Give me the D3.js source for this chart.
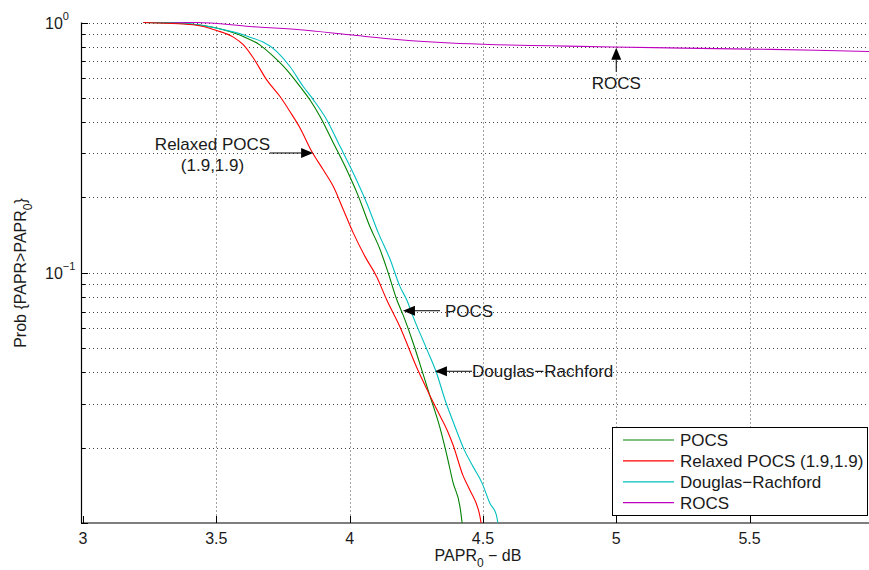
<!DOCTYPE html>
<html><head><meta charset="utf-8">
<script src="https://cdn.jsdelivr.net/npm/d3@7"></script>
<style>
body{margin:0;background:#fff;}
text{font-family:"Liberation Sans",Arial,Helvetica,sans-serif;fill:#1a1a1a;}
</style></head>
<body><svg id="chart" width="869" height="570"></svg>
<script>
// ---- data ----
const seriesNames = ["POCS", "Relaxed POCS (1.9,1.9)", "Douglas\u2212Rachford", "ROCS"];
const seriesColors = ["#008000", "#ff0000", "#00bfbf", "#bf00bf"];

const pocsX = [3.226,3.389,3.501,3.601,3.663,3.714,3.764,3.814,3.851,3.889,3.939,3.989,4.033,4.076,4.114,4.145,4.177,4.20,4.238,4.275,4.30,4.339,4.365,4.388,4.414,4.422];
const pocsY = [1.0,0.988,0.950,0.879,0.814,0.732,0.647,0.555,0.491,0.421,0.33,0.258,0.202,0.153,0.124,0.0997,0.078,0.068,0.0525,0.0395,0.0325,0.0240,0.0186,0.0145,0.0116,0.010];

const relaxedX = [3.226,3.414,3.501,3.564,3.601,3.639,3.689,3.739,3.776,3.814,3.858,3.901,3.939,3.976,4.014,4.058,4.101,4.139,4.189,4.253,4.30,4.339,4.365,4.388,4.425,4.45,4.489,4.493];
const relaxedY = [1.0,0.979,0.929,0.874,0.815,0.721,0.59,0.506,0.441,0.379,0.305,0.258,0.221,0.179,0.144,0.116,0.0966,0.078,0.0607,0.0415,0.0325,0.0268,0.0236,0.0205,0.0155,0.0136,0.0106,0.010];

const drX = [3.226,3.389,3.501,3.601,3.726,3.776,3.826,3.864,3.914,3.964,4.014,4.064,4.108,4.152,4.189,4.214,4.238,4.29,4.327,4.358,4.39,4.43,4.463,4.496,4.526,4.55,4.556];
const drY = [1.0,0.99,0.95,0.893,0.766,0.667,0.555,0.491,0.409,0.32,0.25,0.19,0.144,0.113,0.088,0.078,0.0668,0.0493,0.0395,0.031,0.0251,0.0196,0.0168,0.0145,0.012,0.0108,0.010];

const rocsX = [3.226,3.426,3.626,3.814,4.00,4.189,4.377,4.55,4.752,4.988,5.25,5.502,5.75,5.948];
const rocsY = [1.0,1.0,0.964,0.935,0.893,0.853,0.828,0.815,0.807,0.798,0.79,0.783,0.775,0.766];

const xTicks = [3, 3.5, 4, 4.5, 5, 5.5];
const xTickLabels = ["3", "3.5", "4", "4.5", "5", "5.5"];
const yDecades = [1, 0.1];
const yDecadeExp = ["0", "\u22121"];

// ---- layout ----
const svg = d3.select("#chart");
const x = d3.scaleLinear().domain([3, 5.948]).range([83, 869]);
const y = d3.scaleLog().domain([0.01, 1]).range([523, 22.5]);
const xL = 81, xR = 869, yT = 22.5, yB = 523;
const FS = 17;

// grid
const minorY = [];
[0.01, 0.1].forEach(d => { for (let k = 1; k <= 9; k++) minorY.push(d * k); });
minorY.push(1);
const grid = svg.append("g");
grid.selectAll("line.h").data(minorY.filter(v => v > 0.011)).join("line")
  .attr("x1", xL).attr("x2", xR).attr("y1", d => Math.round(y(d)) + 0.5).attr("y2", d => Math.round(y(d)) + 0.5)
  .attr("stroke", "#444").attr("stroke-width", 1).attr("stroke-dasharray", "1,3");
grid.selectAll("line.v").data(xTicks.slice(1)).join("line")
  .attr("x1", d => Math.round(x(d)) + 0.5).attr("x2", d => Math.round(x(d)) + 0.5).attr("y1", yT).attr("y2", yB)
  .attr("stroke", "#444").attr("stroke-width", 1).attr("stroke-dasharray", "1,3");

// axes lines & ticks
svg.append("line").attr("x1", xL).attr("x2", xR).attr("y1", yB).attr("y2", yB).attr("stroke", "#555").attr("stroke-width", 1.5);
svg.append("line").attr("x1", xL + 0.5).attr("x2", xL + 0.5).attr("y1", yT).attr("y2", yB).attr("stroke", "#000").attr("stroke-width", 1.2);
svg.append("g").selectAll("line").data(xTicks).join("line")
  .attr("x1", d => Math.round(x(d)) + 0.5).attr("x2", d => Math.round(x(d)) + 0.5).attr("y1", yB).attr("y2", yB - 7)
  .attr("stroke", "#000");
svg.append("g").selectAll("line").data(minorY).join("line")
  .attr("x1", xL).attr("x2", d => xL + ([1, 0.1, 0.01].some(v => Math.abs(v - d) < 1e-9) ? 7 : 4))
  .attr("y1", d => Math.round(y(d)) + 0.5).attr("y2", d => Math.round(y(d)) + 0.5)
  .attr("stroke", "#000");

// tick labels
svg.append("g").selectAll("text").data(xTicks).join("text")
  .attr("x", d => x(d)).attr("y", 544).attr("text-anchor", "middle").attr("font-size", 16)
  .text((d, i) => xTickLabels[i]);
const yl = svg.append("g").selectAll("text").data(yDecades).join("text")
  .attr("x", 45).attr("y", d => y(d) + 6).attr("font-size", 16);
yl.append("tspan").text("10");
yl.append("tspan").attr("dy", -9).attr("font-size", 11).text((d, i) => yDecadeExp[i]);

// axis titles
const xt = svg.append("text").attr("x", 478).attr("y", 561).attr("text-anchor", "middle").attr("font-size", 16);
xt.append("tspan").text("PAPR");
xt.append("tspan").attr("dy", 6).attr("font-size", 12).text("0");
xt.append("tspan").attr("dy", -6).text(" \u2212 dB");
const yt = svg.append("text").attr("transform", "translate(26,273) rotate(-90)").attr("text-anchor", "middle").attr("font-size", 16);
yt.append("tspan").text("Prob {PAPR>PAPR");
yt.append("tspan").attr("dy", 6).attr("font-size", 12).text("0");
yt.append("tspan").attr("dy", -6).text("}");

// curves
const line = d3.line().x(d => x(d[0])).y(d => y(d[1])).curve(d3.curveMonotoneX);
const curves = [
  d3.zip(rocsX, rocsY),
  d3.zip(pocsX, pocsY),
  d3.zip(drX, drY),
  d3.zip(relaxedX, relaxedY)
];
const curveColors = [seriesColors[3], seriesColors[0], seriesColors[2], seriesColors[1]];
svg.append("g").selectAll("path").data(curves).join("path")
  .attr("d", line).attr("fill", "none").attr("stroke", (d, i) => curveColors[i]).attr("stroke-width", 1.1);

// annotations (arrows)
function arrow(x1, y1, x2, y2) {
  const g = svg.append("g");
  const ang = Math.atan2(y2 - y1, x2 - x1), L = 12, W = 5;
  const bx = x2 - L * Math.cos(ang), by = y2 - L * Math.sin(ang);
  g.append("line").attr("x1", x1).attr("y1", y1).attr("x2", bx).attr("y2", by).attr("stroke", "#000").attr("stroke-width", 1);
  g.append("path").attr("d", `M${x2},${y2}L${bx - W * Math.sin(ang)},${by + W * Math.cos(ang)}L${bx + W * Math.sin(ang)},${by - W * Math.cos(ang)}Z`)
    .attr("fill", "#000");
}
// Relaxed POCS
arrow(x(3.70), y(0.301), x(3.863), y(0.301));
svg.append("text").attr("x", 212.5).attr("y", y(0.301) - 3).attr("text-anchor", "middle").attr("font-size", FS).text("Relaxed POCS");
svg.append("text").attr("x", 212.5).attr("y", y(0.301) + 18).attr("text-anchor", "middle").attr("font-size", FS).text("(1.9,1.9)");
// POCS
arrow(x(4.339), y(0.0705), x(4.20), y(0.0705));
svg.append("text").attr("x", x(4.339) + 5).attr("y", y(0.0705) + 6).attr("font-size", FS).text("POCS");
// Douglas-Rachford
arrow(x(4.459), y(0.0404), x(4.32), y(0.0404));
svg.append("text").attr("x", x(4.459)).attr("y", y(0.0404) + 6).attr("font-size", FS).text("Douglas\u2212Rachford");
// ROCS
arrow(x(5.0), y(0.635), x(5.0), y(0.792));
svg.append("text").attr("x", x(5.0)).attr("y", y(0.635) + 17).attr("text-anchor", "middle").attr("font-size", FS).text("ROCS");

// legend
const lg = svg.append("g");
lg.append("rect").attr("x", 612.5).attr("y", 427.5).attr("width", 255).attr("height", 88)
  .attr("fill", "#fff").attr("stroke", "#000").attr("stroke-width", 1);
const rows = lg.selectAll("g.row").data(seriesNames).join("g").attr("transform", (d, i) => `translate(0,${440 + i * 20.9})`);
rows.append("line").attr("x1", 623).attr("x2", 674).attr("y1", 0).attr("y2", 0).attr("stroke", (d, i) => seriesColors[i]).attr("stroke-width", 1.2);
rows.append("text").attr("x", 680).attr("y", 6).attr("font-size", FS).text(d => d);
</script></body></html>
